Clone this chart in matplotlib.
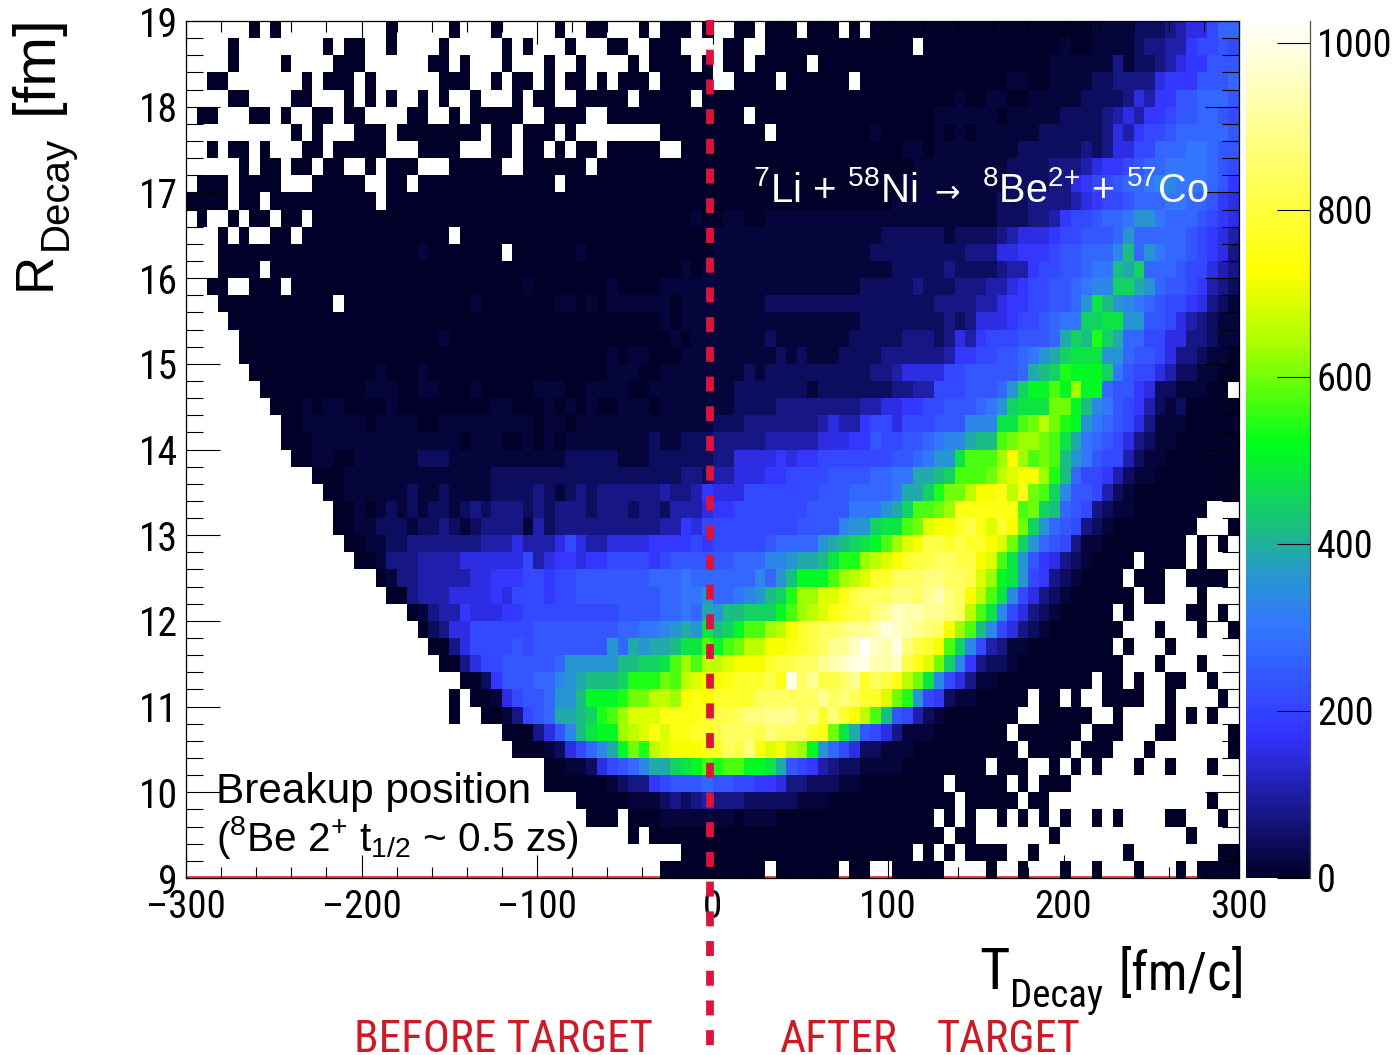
#!/usr/bin/env python3
"""Breakup position heatmap, 7Li + 58Ni -> 8Be + 57Co"""
import matplotlib
matplotlib.use("Agg")
import matplotlib.pyplot as plt
import matplotlib.colors as mcolors
from matplotlib.lines import Line2D
from matplotlib.ticker import MultipleLocator
import numpy as np
import logging

logging.getLogger('matplotlib.font_manager').setLevel(logging.ERROR)

W, H = 1393, 1055
NARROW = ['Roboto Condensed', 'IBM Plex Sans Condensed', 'Liberation Sans']
plt.rcParams['font.family'] = ['Liberation Sans']
plt.rcParams['mathtext.fontset'] = 'custom'
plt.rcParams['mathtext.rm'] = 'Liberation Sans'
plt.rcParams['mathtext.it'] = 'Liberation Sans'
plt.rcParams['mathtext.default'] = 'regular'

# one string per row, top row first. '.' = empty bin, else a base-36 count level
rows = [
    "......0.0. .........0 .....0...0 .....0..00 ...0.000.0 ..00.000.0 00.0.00000 0000000000 0000001111 2223455799",
    "....0..... ...0.00..0 ....0..... 0.0...0... 00..000... .00..00000 000000000. 0000000000 0001001111 2334467787",
    "....0....0 ....000... ...00.0... 0...0..0.. ..0.0000.0 .00.00000. 0000000000 0000000000 0011111131 2234566888",
    "..00...... .0.000.0.. ....000..0 .00.0.00.0 .000.00000 ..0000.000 000.000000 0000000011 0011112233 3356668889",
    "....00.... 00...0.0.0 ..0.0..0.. .0.00..000 00.00000.0 0000000000 0000000000 0001001100 1111122223 5466889998",
    ".00...00.0 ..00.00... .00..0.000 00..0000.. 0000000000 000.000000 0000000000 0111111011 1112222345 4667889987",
    ".......... 0.0...000. 00000000.0 0.000.0... .....00000 00000.0000 0000010000 0101011111 1222222354 6778999998",
    "..0.00.0.. .00.00000. ..0000...0 0.00.0.00. 00000..000 0000000000 0000000011 0111111112 2222232355 77999aa988",
    ".....0.00. 00.00..0.0 00...00000 ..000000.0 0000000000 0000000000 0000000001 1111111122 2233345667 899aaaa987",
    ".000.0000. ..00000..0 0.00000000 00000.0000 0000000000 0000000000 0000000011 1111111122 2233567789 9abbaaa986",
    "0000.00.00 00000000.0 0000000000 0000000000 0000000000 0000000000 0000000111 1111111222 3333456778 999aa99865",
    ".0..0.00.0 0.00000000 0000000000 0000000000 0000000010 0110011111 1111111111 1111111222 334677899a cca9998765",
    "...0.0..00 .000000000 00000.0000 0000000000 0000000000 1111111111 1111112222 2212222345 556778889c 9999987654",
    "...0000000 0000000000 0010000000 .000000100 0000000000 1111111111 1111122222 2222333556 66788999be 9ca9987653",
    "...0000.00 0000000000 0000000000 0000000000 0000000101 1111111111 1111111222 2232222344 677889aaed f999877543",
    "..00..000. 0000000000 0000000000 0010000000 1000011111 1111111111 1111222223 2223334456 77889abbff dc98876432",
    "...0000000 0000.00000 0000000100 0000011010 1111110111 1111122222 2222222222 2333344566 77889cgecb a987765321",
    "....000000 0000000000 0000000000 0000000000 0000010111 1111111111 1111222222 2232355567 789aaffggc c887543211",
    ".....00000 0000000000 0000100000 0000000000 0000001011 1111121111 1112222233 3235467778 889dfeifd9 9775533211",
    ".....00000 0000000000 0000000000 0000000000 1011000111 1111112121 1122223333 3346677889 acdfgggcc9 8875332110",
    "......0000 0000000010 0010000000 0000000000 1110011111 1112122222 2222233455 5577888889 defihhhfa8 7754221100",
    ".......000 0000000111 0011000100 0001110011 1100111111 1122222221 2222222334 47778889cf hhjhlhh988 652211100.",
    "........00 0101100001 0000000001 1000101010 0111011111 1122223333 3333445566 778889acfg ggkkheba87 6421200000",
    ".........0 0111111011 1100111111 1110110111 1111111111 2223333333 4544677577 7888bbbggj kmkihca987 5311100000",
    ".........0 0011111111 1111110111 0010101111 1111211222 3333344444 5556687788 9abbdeejkl lkjgda9875 3211000000",
    ".......... 0011001111 1122211111 1111112222 2111222222 3355556566 7777777889 accgjjjlol jkjeca8774 2110000000",
    ".......... ..00011111 1111111112 2222222222 2222222332 4455566777 7888899aad defjjjkmno olie977642 1100000000",
    ".......... ...0011111 1211211112 2223212323 3333343346 5557777777 8889999add fikkmoopmp kjfb887421 0000000000",
    ".......... ....001012 1212212323 3323233323 3323324445 6677777778 888aaacdfj jklppppppj kfe9873211 0000000...",
    ".......... ....001122 2122321233 3314233333 3333344657 7777777788 88bccfggjk nooqrpnqok fc98732100 000000...0",
    ".......... .....00112 2333333344 4544457544 5555666676 7777789999 cdefghjlno rrqrqqonkf c987311000 00000.0.0.",
    ".......... ......0013 3344445555 5574566566 7777678888 88999bbcdd egiilmnoqr rssrronjgc 8653210000 .0000.0...",
    ".......... ........01 3344444556 6677677888 8888999a99 9999b9cehh hjlmnqqsss ttssrnlhgc 763210000. 000..0000.",
    ".......... .........0 0344455556 5777677888 8888899aac 99abcefill nnprssstts uvtsomjgb7 5321000000 .00...0...",
    ".......... .......... .013446555 6677777777 7888899a9d ceefffhjlm npqrrtuwvv uutsmjgb75 32100000.0 .....00.0.",
    ".......... .......... ..02355777 7778888888 899aabcdcg efhjjlmoqr sstuuvxwvu tsoljeb753 210000000. ..0...0..0",
    ".......... .......... ...0035777 7878888888 c9dcddeggj hjkmmoopqr suuwywvxtr qojfb74311 00000000.0 ...0......",
    ".......... .......... ....003577 888889cccc ceeffgjljm mnoooqrrss uvwxxvvwrp nkfb632210 000000000. ..0...0...",
    ".......... .......... ......0026 88899bcdee efiiikjmno opqqqrpxsu rrsuqsrpmk gb75311000 000000.00. 0..00..0..",
    ".......... .......... .....0.001 57889ccehh hikkmmlopo qqqqssssss ustsqqnkic 7621100000 .00.0..000 0..0....0.",
    ".......... .......... .....0..00 13789ddefi jlnnnppppq rrsttuuust qtqomje874 210000000. .00000..0. ...0.0.0..",
    ".......... .......... .......... 000358begh hlmnpnppqq rsssrtsssq pkgd875311 10000000.0 00000.000. ..00.....0",
    ".......... .......... .......... .00012579b dhkimnooop qsrtpnomlh c975221110 000000000. 0000.000.. .0.......0",
    ".......... .......... .......... ....001125 789bddfghj ijjhhgd876 4322111100 000000.000 ..0.0.0... 0..0...0..",
    ".......... .......... .......... ....000000 1233678889 8877665332 2211000000 00.00000.0 .000...... ..........",
    ".......... .......... .......... .......000 0011123234 3332222211 1000000000 000.00000. 00........ .......0..",
    ".......... .......... .......... ........00 0.00011111 1101110000 0000000000 0.0.0..0.0 .0.0..0.0. ...00...0.",
    ".......... .......... .......... .......... ..0.000000 0000000000 0000000000 00.00..... ..0....... .....0....",
    ".......... .......... .......... .......... .......000 0000000000 000000000. 0.0.0000.. 0........0 ........00",
    ".......... .......... .......... .......... .....00000 00000.0000 00.00..000 00....0..0 ...0..0... 0...0.0000",
]

# counts for the lowest levels, the rest step by 30
low_levels = [4, 20, 45, 75, 108]

x_labels = ['\u2013300', '\u2013200', '\u2013100', '0', '100', '200', '300']
x_ticks = [-300, -200, -100, 0, 100, 200, 300]
y_ticks = [9, 10, 11, 12, 13, 14, 15, 16, 17, 18, 19]
z_ticks = [0, 200, 400, 600, 800, 1000]

# palette stops
stop_values = [0, 170, 300, 365, 420, 520, 640, 725, 800, 1000, 1026]
stop_colors = ['#000028', '#3333ff', '#3377ff', '#2699cc', '#1abf80', '#00ff1a',
               '#aaff00', '#ffff00', '#ffff3c', '#ffffe6', '#ffffff']

zmax = 1026
cmap = mcolors.LinearSegmentedColormap.from_list(
    'breakup', [(v / zmax, c) for v, c in zip(stop_values, stop_colors)], N=256)

def level_value(ch):
    if ch == '.':
        return np.nan
    lev = int(ch, 36)
    return low_levels[lev] if lev < len(low_levels) else lev * 30

def decode(row):
    row = row.replace(' ', '')
    assert len(row) == 100, (len(row), row)
    return [level_value(ch) for ch in row]

counts = np.array([decode(r) for r in rows])[::-1]
counts = np.ma.masked_invalid(counts)

fig = plt.figure(figsize=(W / 100, H / 100), dpi=100)

def px_axes(x0, y0, x1, y1):
    return fig.add_axes([x0 / W, 1 - y1 / H, (x1 - x0) / W, (y1 - y0) / H])

def label(x, y, s, size, **kw):
    kw.setdefault('ha', 'left')
    kw.setdefault('va', 'baseline')
    kw.setdefault('rotation_mode', 'anchor')
    return fig.text(x / W, 1 - y / H, s, fontsize=size, **kw)

ax = px_axes(186, 21, 1239, 878)
x_edges = np.linspace(-300, 300, 101)
y_edges = np.linspace(9, 19, 51)
ax.axhline(9.01, color='#e8202a', lw=1.2, zorder=0)
mesh = ax.pcolormesh(x_edges, y_edges, counts, cmap=cmap, vmin=0, vmax=zmax, zorder=1)
ax.set_xlim(-300, 300)
ax.set_ylim(9, 19)
ax.set_xticks(x_ticks)
ax.set_xticklabels(x_labels, family=NARROW)
ax.set_yticks(y_ticks)
ax.set_yticklabels([str(v) for v in y_ticks], family=NARROW)
ax.xaxis.set_minor_locator(MultipleLocator(20))
ax.yaxis.set_minor_locator(MultipleLocator(0.2))
ax.tick_params(axis='x', which='major', direction='in', top=True, length=16.5, width=0.8,
               labelsize=28, pad=8)
ax.tick_params(axis='x', which='minor', direction='in', top=True, length=8.2, width=0.8)
ax.tick_params(axis='y', which='major', direction='in', right=True, length=24.5, width=0.8,
               labelsize=28.5, pad=6)
ax.tick_params(axis='y', which='minor', direction='in', right=True, length=12, width=0.8)
for sp in ax.spines.values():
    sp.set_linewidth(0.9)
    sp.set_zorder(5)
ax.set_axisbelow(False)

cax = px_axes(1246, 21, 1310, 878)
cbar = fig.colorbar(mesh, cax=cax)
cbar.set_ticks(z_ticks)
cbar.set_ticklabels([str(v) for v in z_ticks], family=NARROW)
cbar.outline.set_visible(False)
cax.tick_params(which='major', direction='in', length=24, width=0.8, labelsize=27.5, pad=5)
cax.minorticks_off()
fig.add_artist(Line2D([1310 / W, 1310 / W], [1 - 21 / H, 1 - 878 / H], color='#555555', lw=0.9))

# dashed separator at decay time 0, runs down past the axis
fig.add_artist(Line2D([709.5 / W, 709.5 / W], [1 - 20 / H, 1 - 1050 / H], color='#dc143c', lw=5.6,
                      linestyle=(0, (1.93, 1.89)), dash_capstyle='butt', zorder=6))

label(50, 290, 'R', 38, rotation=90)
label(67, 250, 'Decay', 29, rotation=90)
label(52, 114, '[fm]', 43, rotation=90)

label(979, 989, 'T', 42, family=NARROW)
label(1010, 1007, 'Decay', 28, family=NARROW)
label(1119, 990, '[fm/c]', 38, family=NARROW)

label(354, 1052, 'BEFORE TARGET', 32.5, family=NARROW, color='#cc1b26')
label(779, 1052, 'AFTER', 32.5, family=NARROW, color='#cc1b26')
label(937, 1052, 'TARGET', 32, family=NARROW, color='#cc1b26')

label(753, 202, r'$^{7}$Li + $^{58}$Ni', 29, color='white')
label(934, 202, '\u2192', 22, color='white', family=['DejaVu Sans'])
label(982, 202, r'$^{8}$Be$^{2{+}}$ + $^{57}$Co', 28.5, color='white')

label(216, 803, 'Breakup position', 30.4)
label(216, 851, r'($^{8}$Be 2$^{+}$ t$_{1/2}$ ~ 0.5 zs)', 29.2)

fig.savefig('out.png', dpi=100)
